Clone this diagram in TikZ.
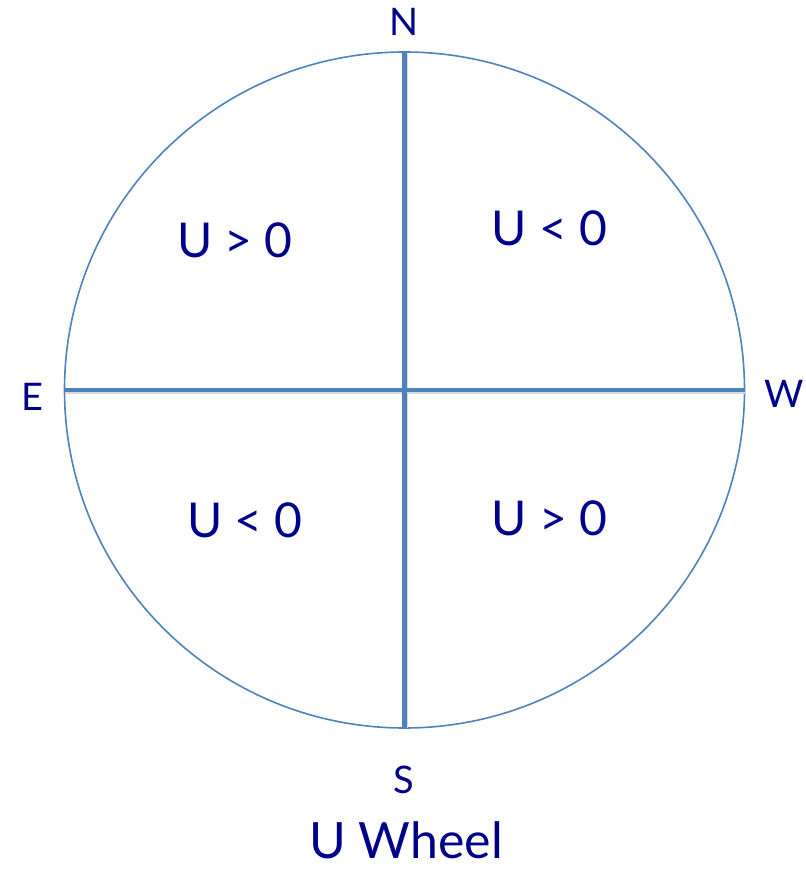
\documentclass[tikz,border=0pt]{standalone}
\usepackage{fontspec}
\setmainfont{Lato}
\usetikzlibrary{positioning, calc}

\definecolor{wheelblue}{RGB}{79,129,189}
\definecolor{textblue}{RGB}{0,0,140}

\begin{document}
\begin{tikzpicture}[x=1pt, y=-1pt,
  rim/.style={draw=wheelblue, line width=1.6pt},
  axis/.style={draw=wheelblue, line width=4.5pt},
  shade/.style={draw=black!15, line width=4.5pt},
  compass/.style={text=textblue, font=\fontsize{38}{40}\selectfont, inner sep=0pt},
  sign/.style={text=textblue, font=\fontsize{48}{50}\selectfont, inner sep=0pt},
  title/.style={text=textblue, font=\fontsize{50}{54}\selectfont, inner sep=0pt}
]

  \useasboundingbox (0,0) rectangle (805,869);

  % Wheel
  \coordinate (c) at (404.5,390);
  \coordinate (top) at (404.5,52);
  \coordinate (bot) at (404.5,728);
  \coordinate (lft) at (64.5,390);
  \coordinate (rgt) at (744.5,390);

  \draw[rim] (c) ellipse [x radius=340, y radius=338];

  % Cross
  \draw[shade] ([xshift=1.5pt,yshift=-2pt]top) -- ([xshift=1.5pt]bot);
  \draw[shade] ([yshift=-2pt]lft) -- ([yshift=-2pt]rgt);
  \draw[axis] (top) -- (bot);
  \draw[axis] (lft) -- (rgt);

  % Compass points
  \node[compass] (north) at (404,22) {N};
  \node[compass] (south) at (404,780) {S};
  \node[compass] (east) at (32,397) {E};
  \node[compass, anchor=west] (west) at (764,394) {W};

  % Quadrants
  \node[sign] (ul) at (235,240) {U > 0};
  \node[sign] (ur) at (549.5,228.5) {U < 0};
  \node[sign] (ll) at (245,520) {U < 0};
  \node[sign] (lr) at (549.5,518) {U > 0};

  % Title
  \node[title, anchor=base] (caption) at (406,858) {U Wheel};

\end{tikzpicture}
\end{document}
